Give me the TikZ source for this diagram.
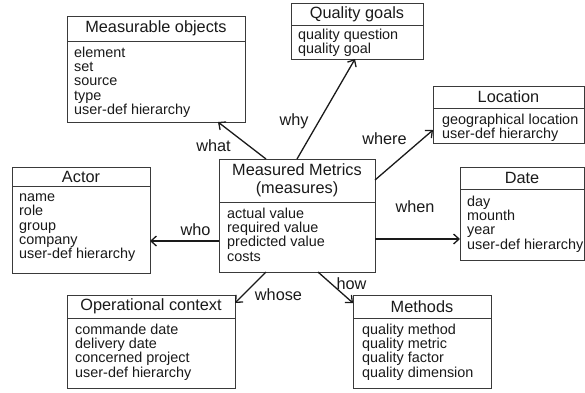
\documentclass[tikz,border=0pt]{standalone}
\usepackage{fontspec}
\setmainfont{Liberation Sans}
\usetikzlibrary{positioning,arrows.meta}

\definecolor{boxline}{HTML}{3A3A3A}
\definecolor{ink}{HTML}{1A1A1A}

\newcommand{\titlefont}{\fontsize{16.3}{18}\selectfont}
\newcommand{\itemfont}{\fontsize{14.4}{14.3}\selectfont}

\tikzset{
  classtitle/.style={draw=boxline, line width=0.9pt, fill=white, inner sep=0pt,
    outer sep=0pt, font=\titlefont, text=ink, align=center},
  classbody/.style={draw=boxline, line width=0.9pt, fill=white, inner sep=0pt,
    outer sep=0pt},
  classitems/.style={inner sep=0pt, anchor=north west, align=left, font=\itemfont,
    text=ink, execute at begin node=\strut},
  link/.style={draw=ink, line width=1.3pt, -{Straight Barb[length=5.5pt,width=10pt]}},
  linklabel/.style={inner sep=0pt, anchor=base, font=\titlefont, text=ink}
}

\begin{document}
\begin{tikzpicture}[x=1pt, y=-1pt]
  \useasboundingbox (0,0) rectangle (585,392);

  % Measured metrics (centre)
  \node[classtitle, minimum width=156, minimum height=43] (mm) at (297,180.5) {Measured Metrics\\(measures)};
  \node[classbody, minimum width=156, minimum height=70, below=0pt of mm] (mm-b) {};
  \node[classitems] (mm-t) at ([xshift=8pt,yshift=-5.5pt]mm-b.north west) {actual value\\required value\\predicted value\\costs};

  % Measurable objects
  \node[classtitle, minimum width=178, minimum height=25] (objects) at (156,28.5) {Measurable objects};
  \node[classbody, minimum width=178, minimum height=81, below=0pt of objects] (objects-b) {};
  \node[classitems] (objects-t) at ([xshift=7pt,yshift=-5.5pt]objects-b.north west) {element\\set\\source\\type\\user-def hierarchy};

  % Quality goals
  \node[classtitle, minimum width=132, minimum height=22] (goals) at (357,14) {Quality goals};
  \node[classbody, minimum width=132, minimum height=34, below=0pt of goals] (goals-b) {};
  \node[classitems] (goals-t) at ([xshift=7pt,yshift=-3.5pt]goals-b.north west) {quality question\\quality goal};

  % Location
  \node[classtitle, minimum width=151, minimum height=22] (location) at (508.5,97) {Location};
  \node[classbody, minimum width=151, minimum height=35, below=0pt of location] (location-b) {};
  \node[classitems] (location-t) at ([xshift=9pt,yshift=-5.5pt]location-b.north west) {geographical location\\user-def hierarchy};

  % Actor
  \node[classtitle, minimum width=138, minimum height=19] (actor) at (81,176.5) {Actor};
  \node[classbody, minimum width=138, minimum height=87, below=0pt of actor] (actor-b) {};
  \node[classitems] (actor-t) at ([xshift=7pt,yshift=-7.5pt]actor-b.north west) {name\\role\\group\\company\\user-def hierarchy};

  % Date
  \node[classtitle, minimum width=124, minimum height=22] (date) at (522,178) {Date};
  \node[classbody, minimum width=124, minimum height=71, below=0pt of date] (date-b) {};
  \node[classitems] (date-t) at ([xshift=7pt,yshift=-6.5pt]date-b.north west) {day\\mounth\\year\\user-def hierarchy};

  % Operational context
  \node[classtitle, minimum width=168, minimum height=23] (context) at (151,306.5) {Operational context};
  \node[classbody, minimum width=168, minimum height=70, below=0pt of context] (context-b) {};
  \node[classitems] (context-t) at ([xshift=8pt,yshift=-5.5pt]context-b.north west) {commande date\\delivery date\\concerned project\\user-def hierarchy};

  % Methods
  \node[classtitle, minimum width=138, minimum height=23] (methods) at (422,306.5) {Methods};
  \node[classbody, minimum width=138, minimum height=70, below=0pt of methods] (methods-b) {};
  \node[classitems] (methods-t) at ([xshift=9pt,yshift=-5.5pt]methods-b.north west) {quality method\\quality metric\\quality factor\\quality dimension};

  % Connectors
  \coordinate (whenstart) at ([yshift=-80pt]mm.north east);
  \coordinate (whostart) at ([yshift=-82pt]mm.north west);
  \draw[link] ([xshift=47pt]mm.north west) -- ([xshift=151pt]objects-b.south west);
  \draw[link] ([xshift=78pt]mm.north west) -- ([xshift=64pt]goals-b.south west);
  \draw[link] ([yshift=-21pt]mm.north east) -- ([yshift=-22pt]location-b.north west);
  \draw[link] (whenstart) -- (whenstart -| date-b.west);
  \draw[link] (whostart) -- (whostart -| actor-b.east);
  \draw[link] ([xshift=47pt]mm-b.south west) -- ([yshift=-8pt]context.north east);
  \draw[link] ([xshift=99pt]mm-b.south west) -- ([yshift=-8pt]methods.north west);

  % Connector labels
  \node[linklabel] (what-l) at (213.5,151) {what};
  \node[linklabel] (why-l) at (294,125) {why};
  \node[linklabel] (where-l) at (384.5,144) {where};
  \node[linklabel] (when-l) at (415,212) {when};
  \node[linklabel] (who-l) at (195.5,235) {who};
  \node[linklabel] (whose-l) at (278.5,300) {whose};
  \node[linklabel] (how-l) at (351.5,289) {how};
\end{tikzpicture}
\end{document}
